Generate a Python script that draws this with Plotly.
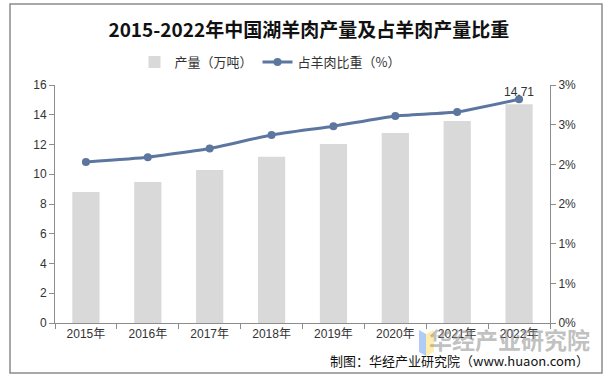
import plotly.graph_objects as go

years = ["2015年", "2016年", "2017年", "2018年", "2019年", "2020年", "2021年", "2022年"]
output = [8.81, 9.48, 10.29, 11.18, 12.03, 12.77, 13.58, 14.71]
share = [2.03, 2.09, 2.20, 2.37, 2.48, 2.61, 2.66, 2.82]
left_ticks = [0, 2, 4, 6, 8, 10, 12, 14, 16]
right_tickvals = [0, 0.5, 1.0, 1.5, 2.0, 2.5, 3.0]
right_ticktext = ["0%", "1%", "1%", "2%", "2%", "3%", "3%"]

W, H = 609, 384
L, R, T, B = 55, 550, 85, 323
pw, ph = R - L, B - T

def px(x):
    return (x - L) / pw

def py(y):
    return (B - y) / ph

fig = go.Figure()
fig.add_trace(go.Bar(
    x=years, y=output, name="产量（万吨）",
    marker=dict(color="#d9d9d9", line=dict(width=0)),
    width=0.44, yaxis="y",
))
fig.add_trace(go.Scatter(
    x=years, y=share, name="占羊肉比重（%）", yaxis="y2",
    mode="lines+markers",
    line=dict(color="#5d76a0", width=3, shape="spline", smoothing=0.4),
    marker=dict(color="#5d76a0", size=8),
))

axis_font = dict(family="Arial, Liberation Sans", size=12, color="#333333")
annotations = [
    dict(x=years[-1], y=output[-1], xref="x", yref="y",
         text=f"{output[-1]:.2f}", showarrow=False, yanchor="bottom", yshift=3,
         font=dict(family="Arial, Liberation Sans", size=12, color="#333333")),
    dict(text="<b>华经产业研究院</b>", xref="paper", yref="paper",
         x=px(592), y=py(339), xanchor="right", yanchor="middle", showarrow=False,
         font=dict(family="Noto Sans CJK SC", size=23, color="rgba(140,140,140,0.55)")),
    dict(text="制图：华经产业研究院（www.huaon.com）", xref="paper", yref="paper",
         x=px(591), y=py(361), xanchor="right", yanchor="middle", showarrow=False,
         font=dict(family="Noto Sans CJK SC", size=13, color="#111111")),
]

fig.update_layout(
    width=W, height=H,
    margin=dict(l=L, r=W - R, t=T, b=H - B, autoexpand=False),
    paper_bgcolor="white", plot_bgcolor="white",
    title=dict(
        text="<b>2015-2022年中国湖羊肉产量及占羊肉产量比重</b>",
        x=px(306), xanchor="center", y=1 - 30 / H, yanchor="middle",
        font=dict(family="Noto Sans CJK SC", size=19, color="#111111"),
    ),
    legend=dict(
        orientation="h", x=px(270), xanchor="center", y=py(62), yanchor="middle",
        font=dict(family="Noto Sans CJK SC", size=13, color="#333333"),
        bgcolor="rgba(0,0,0,0)", tracegroupgap=20,
    ),
    xaxis=dict(
        showline=True, linecolor="#8c8c8c", linewidth=1,
        ticks="outside", tickson="boundaries", ticklen=5, tickcolor="#8c8c8c",
        tickfont=dict(family="Arial, Noto Sans CJK SC", size=12, color="#333333"),
        showgrid=False,
    ),
    yaxis=dict(
        range=[0, 16], tickvals=left_ticks, showline=True, linecolor="#8c8c8c",
        ticks="outside", ticklen=5, tickcolor="#8c8c8c", showgrid=False,
        zeroline=False, tickfont=axis_font,
    ),
    yaxis2=dict(
        range=[0, 3], overlaying="y", side="right", tickvals=right_tickvals,
        ticktext=right_ticktext, showline=True, linecolor="#8c8c8c",
        ticks="outside", ticklen=5, tickcolor="#8c8c8c", showgrid=False,
        zeroline=False, tickfont=axis_font,
    ),
    shapes=[
        dict(type="rect", xref="paper", yref="paper",
             x0=px(10), x1=px(602), y0=py(373), y1=py(4),
             line=dict(color="#8c8c8c", width=1.5), fillcolor="rgba(0,0,0,0)", layer="below"),
        dict(type="path", xref="paper", yref="paper",
             path=f"M {px(419)},{py(330)} L {px(426)},{py(334)} L {px(426)},{py(356)} L {px(419)},{py(352)} Z",
             fillcolor="rgba(120,170,240,0.6)", line=dict(width=0)),
        dict(type="path", xref="paper", yref="paper",
             path=f"M {px(426)},{py(334)} L {px(434)},{py(330)} L {px(434)},{py(352)} L {px(426)},{py(356)} Z",
             fillcolor="rgba(255,225,120,0.6)", line=dict(width=0)),
    ],
    annotations=annotations,
)

fig.write_html("out.html", config={"displayModeBar": False},
               post_script="document.body.style.margin='0';")
